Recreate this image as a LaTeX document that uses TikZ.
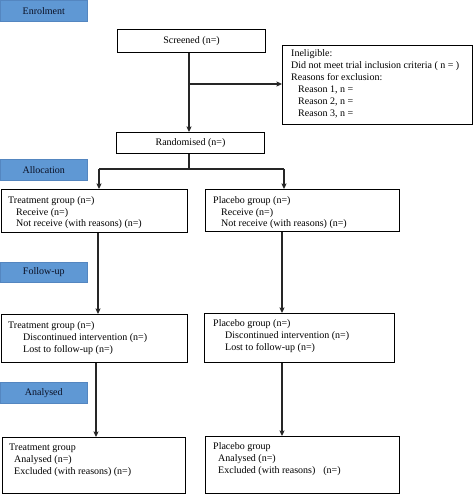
\documentclass[tikz,border=0pt]{standalone}
\usepackage{fontspec}
\setmainfont{Liberation Serif}
\usetikzlibrary{arrows.meta}
\definecolor{lblue}{RGB}{95,152,212}
\definecolor{lborder}{RGB}{84,134,192}
\definecolor{ltext}{RGB}{10,16,36}
\begin{document}
\begin{tikzpicture}[x=1pt,y=-1pt,
  every node/.style={font=\fontsize{10}{12}\selectfont},
  box/.style={draw=black, line width=1pt, rectangle, inner sep=0pt, anchor=north west},
  lbl/.style={draw=lborder, fill=lblue, line width=0.6pt, rectangle, inner sep=0pt, anchor=north west,
     minimum width=87pt, minimum height=21pt, text=ltext},
  txt/.style={anchor=north west, inner sep=0pt, align=left},
  conn/.style={draw=black!85, line width=1.1pt},
  arr/.style={conn, -{Stealth[length=5.5pt,width=5pt,inset=1pt]}}]
\useasboundingbox (0,0) rectangle (473,494);

% stage labels
\node[lbl] (enr) at (0,0) {Enrolment};
\node[lbl] (alloc) at (0,159) {Allocation};
\node[lbl, minimum height=20pt] (fu) at (0,262) {Follow-up};
\node[lbl] (ana) at (0,382) {Analysed};

% boxes
\node[box, minimum width=148pt, minimum height=23pt] (scr) at (117,29) {Screened (n=)};
\node[box, minimum width=190pt, minimum height=79pt] (inel) at (282,45) {};
\node[box, minimum width=148pt, minimum height=21pt] (rand) at (116,132) {Randomised (n=)};
\node[box, minimum width=186pt, minimum height=43pt] (tb1) at (0.5,189) {};
\node[box, minimum width=194pt, minimum height=42pt] (pb1) at (205,189) {};
\node[box, minimum width=186pt, minimum height=48pt] (tb2) at (0.5,314) {};
\node[box, minimum width=190pt, minimum height=49pt] (pb2) at (204,313) {};
\node[box, minimum width=183pt, minimum height=56pt] (tb3) at (2,437) {};
\node[box, minimum width=194pt, minimum height=57pt] (pb3) at (205,436) {};

% texts
\node[txt] (inelt) at (291,49.5) {Ineligible:\\Did not meet trial inclusion criteria ( n = )\\Reasons for exclusion:\\
  \hspace*{7pt}Reason 1, n =\\\hspace*{7pt}Reason 2, n =\\\hspace*{7pt}Reason 3, n =};
\node[txt] (tb1t) at (8,196.5) {Treatment group (n=)\\[-0.5pt]\hspace*{8pt}Receive (n=)\\[-0.5pt]\hspace*{8pt}Not receive (with reasons) (n=)};
\node[txt] (pb1t) at (213,196.5) {Placebo group (n=)\\[-0.5pt]\hspace*{8pt}Receive (n=)\\[-0.5pt]\hspace*{8pt}Not receive (with reasons) (n=)};
\node[txt] (tb2t) at (8,321.5) {Treatment group (n=)\\\hspace*{15pt}Discontinued intervention (n=)\\\hspace*{15pt}Lost to follow-up (n=)};
\node[txt] (pb2t) at (213,319.5) {Placebo group (n=)\\\hspace*{12pt}Discontinued intervention (n=)\\\hspace*{12pt}Lost to follow-up (n=)};
\node[txt] (tb3t) at (9,443.5) {Treatment group\\\hspace*{5pt}Analysed (n=)\\\hspace*{5pt}Excluded (with reasons) (n=)};
\node[txt] (pb3t) at (213,442.5) {Placebo group\\\hspace*{5pt}Analysed (n=)\\\hspace*{5pt}Excluded (with reasons)\hspace{8pt}(n=)};

% connectors
\coordinate (mc) at (189,0);
\coordinate (br) at (189,84);
\coordinate (sl) at (99,169);
\coordinate (sr) at (284,169);
\coordinate (cl) at (98,0);
\coordinate (cl2) at (96,0);
\coordinate (cr) at (282,0);

\draw[arr] (mc |- scr.south) -- (mc |- rand.north);
\draw[arr] (br) -- (br -| inel.west);
\draw[conn] (mc |- rand.south) -- (mc |- sl);
\draw[conn] (sl) -- (sr);
\draw[arr] (sl) -- (sl |- tb1.north);
\draw[arr] (sr) -- (sr |- pb1.north);
\draw[arr] (cl |- tb1.south) -- (cl |- tb2.north);
\draw[arr] (cr |- pb1.south) -- (cr |- pb2.north);
\draw[arr] (cl2 |- tb2.south) -- (cl2 |- tb3.north);
\draw[arr] (cr |- pb2.south) -- (cr |- pb3.north);
\end{tikzpicture}
\end{document}
